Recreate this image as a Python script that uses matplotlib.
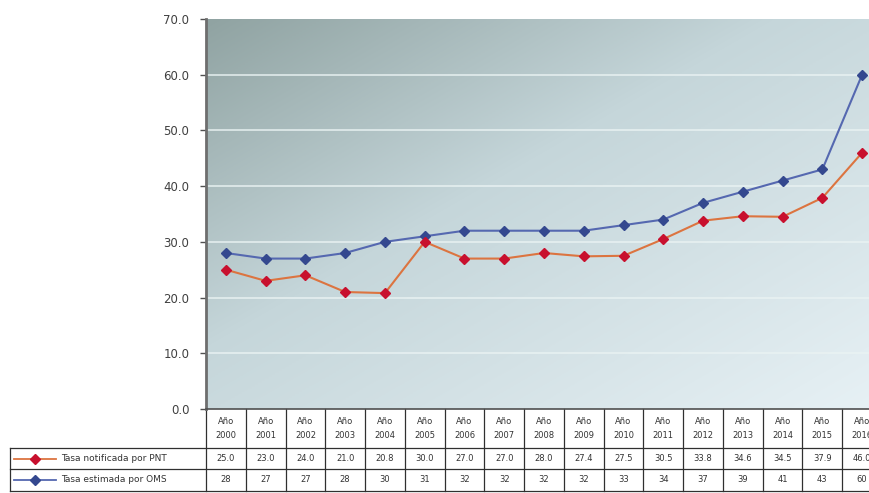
import numpy as np
import matplotlib
matplotlib.use('Agg')
import matplotlib.pyplot as plt
import matplotlib.transforms as mtransforms
from matplotlib.colors import LinearSegmentedColormap
from matplotlib.lines import Line2D

# data
years = ['2000', '2001', '2002', '2003', '2004', '2005', '2006', '2007', '2008',
         '2009', '2010', '2011', '2012', '2013', '2014', '2015', '2016']
tasa_pnt = [25.0, 23.0, 24.0, 21.0, 20.8, 30.0, 27.0, 27.0, 28.0,
            27.4, 27.5, 30.5, 33.8, 34.6, 34.5, 37.9, 46.0]
tasa_oms = [28, 27, 27, 28, 30, 31, 32, 32, 32,
            32, 33, 34, 37, 39, 41, 43, 60]
series_names = ['Tasa notificada por PNT', 'Tasa estimada por OMS']

W, H = 870, 493
fig = plt.figure(figsize=(W / 100, H / 100), dpi=100)
fig.patch.set_facecolor('white')


def fx(px):
    return px / W


def fy(py):
    return 1 - py / H


# plot area runs past the right edge of the picture (cut off like the original)
ax_left, ax_right, ax_top, ax_bot = 206, 882, 19, 409
ax = fig.add_axes([fx(ax_left), fy(ax_bot), fx(ax_right - ax_left), (ax_bot - ax_top) / H])

# diagonal gradient background
cmap = LinearSegmentedColormap.from_list(
    'bg', [(0, '#90a3a2'), (0.42, '#c5d6da'), (1, '#e7f1f5')])
gx, gy = np.meshgrid(np.linspace(0, 1, 200), np.linspace(0, 1, 200))
grad = gx * 0.5 + gy * 0.5
ax.imshow(grad, cmap=cmap, extent=[0, 1, 0, 1], transform=ax.transAxes,
          aspect='auto', origin='upper', zorder=0, interpolation='bilinear')

x = np.arange(len(years))
ax.set_xlim(-0.5, len(years) - 0.5)
ax.set_ylim(0, 70)

for yv in range(10, 70, 10):
    ax.axhline(yv, color='#eaf3f3', lw=1.3, alpha=0.8, zorder=1)

ax.plot(x, tasa_oms, color='#5568b0', lw=1.5, marker='D', ms=5.5,
        mfc='#34488f', mec='#34488f', zorder=3)
ax.plot(x, tasa_pnt, color='#dc7440', lw=1.5, marker='D', ms=5.5,
        mfc='#c8102e', mec='#c8102e', zorder=3)

ax.set_yticks(range(0, 71, 10))
ax.set_yticklabels(['%.1f' % v for v in range(0, 71, 10)])
ax.tick_params(axis='y', direction='out', length=4, width=1, color='#505050',
               labelsize=8.5, labelcolor='#404040', pad=8)
ax.set_xticks([])
for s in ['top', 'right']:
    ax.spines[s].set_visible(False)
ax.spines['left'].set_color('#6e6e6e')
ax.spines['left'].set_linewidth(2)
ax.spines['bottom'].set_color('#505050')
ax.spines['bottom'].set_linewidth(1.2)

# data table under the axis
trans = mtransforms.blended_transform_factory(ax.transData, fig.transFigure)
row_top, row1, row2, row_bot = 409, 448, 469, 491
tab_left = 10
lc = '#303030'

# horizontal lines
for py in [row1, row2, row_bot]:
    fig.add_artist(Line2D([fx(tab_left), fx(ax_right)], [fy(py), fy(py)],
                          color=lc, lw=0.9, transform=fig.transFigure))
fig.add_artist(Line2D([fx(tab_left), fx(tab_left)], [fy(row1), fy(row_bot)],
                      color=lc, lw=0.9, transform=fig.transFigure))
# vertical lines between year columns
for i in range(len(years) + 1):
    xb = i - 0.5
    ax.add_artist(Line2D([xb, xb], [fy(row_top), fy(row_bot)], color=lc, lw=0.9,
                         transform=trans, clip_on=False))

txt_kw = dict(ha='center', va='center', fontsize=6, color='#333333',
              transform=trans, clip_on=False)
for i, yr in enumerate(years):
    ax.text(i, fy((row_top + row1) / 2), 'Año\n' + yr, linespacing=1.6, **txt_kw)
    ax.text(i, fy((row1 + row2) / 2), '%.1f' % tasa_pnt[i], **txt_kw)
    ax.text(i, fy((row2 + row_bot) / 2), '%d' % tasa_oms[i], **txt_kw)

# row labels with legend keys
keys = [('#dc7440', '#c8102e'), ('#5568b0', '#34488f')]
for (ytop, ybot), name, (lcol, mcol) in zip([(row1, row2), (row2, row_bot)], series_names, keys):
    yc = fy((ytop + ybot) / 2)
    fig.add_artist(Line2D([fx(14), fx(56)], [yc, yc], color=lcol, lw=1.3,
                          transform=fig.transFigure))
    fig.add_artist(Line2D([fx(35)], [yc], marker='D', ms=5, mfc=mcol, mec=mcol,
                          transform=fig.transFigure))
    fig.text(fx(61), yc, name, ha='left', va='center', fontsize=6.5, color='#333333')

fig.savefig('out.png', dpi=100)
